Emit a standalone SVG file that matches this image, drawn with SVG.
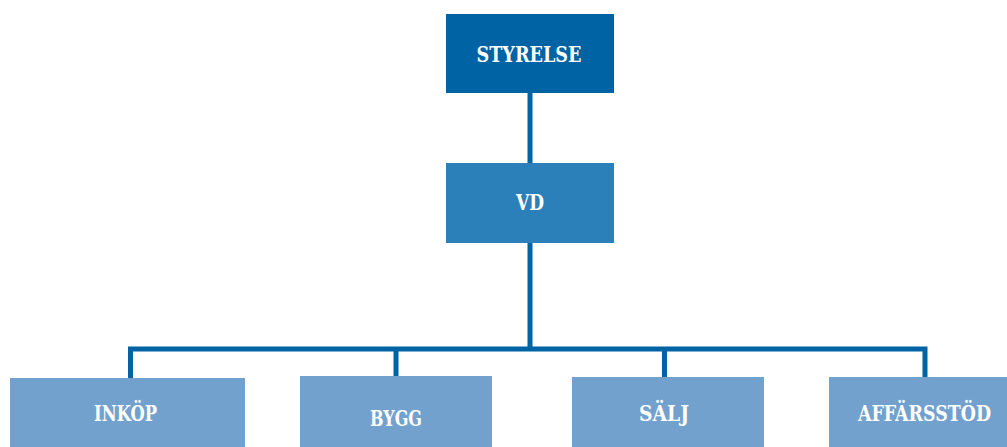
<svg xmlns="http://www.w3.org/2000/svg" width="1007" height="447" viewBox="0 0 1007 447">
<style>
.t{font-family:"DejaVu Serif Condensed","DejaVu Serif","Liberation Serif",serif;font-weight:bold;font-stretch:condensed;font-size:23px;fill:#ffffff;text-anchor:middle}
.c{stroke:#0063A3;stroke-width:5;fill:none}
.top{fill:#0063A3}
.mid{fill:#2C80B9}
.low{fill:#73A1CD}
</style>
<rect width="1007" height="447" fill="#ffffff"/>
<g id="connectors">
<path class="c" d="M530 93V163M530 243V349M130.5 379V349H925V379M396 349V377M664.5 349V378"/>
</g>
<g id="styrelse"><rect class="top" x="446" y="14" width="168" height="79"/><text class="t" x="529" y="62" textLength="105" lengthAdjust="spacingAndGlyphs">STYRELSE</text></g>
<g id="vd"><rect class="mid" x="446" y="163" width="168" height="80"/><text class="t" x="530" y="210" textLength="28" lengthAdjust="spacingAndGlyphs">VD</text></g>
<g id="inkop"><rect class="low" x="10" y="378" width="235" height="69"/><text class="t" x="125.5" y="421" textLength="63" lengthAdjust="spacingAndGlyphs">INKÖP</text></g>
<g id="bygg"><rect class="low" x="300" y="376" width="192" height="71"/><text class="t" x="396" y="426" textLength="52" lengthAdjust="spacingAndGlyphs">BYGG</text></g>
<g id="salj"><rect class="low" x="572" y="377" width="192" height="70"/><text class="t" x="664" y="421" textLength="50" lengthAdjust="spacingAndGlyphs">SÄLJ</text></g>
<g id="affarsstod"><rect class="low" x="829" y="377" width="178" height="70"/><text class="t" x="924.5" y="421" textLength="133" lengthAdjust="spacingAndGlyphs">AFFÄRSSTÖD</text></g>
</svg>
